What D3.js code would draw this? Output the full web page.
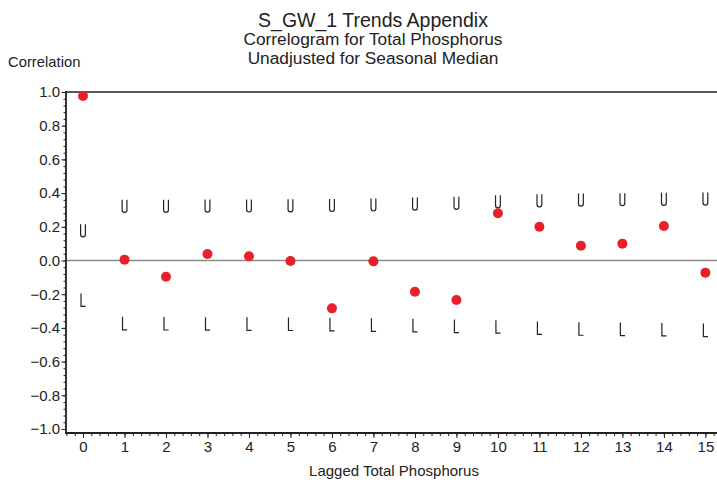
<!DOCTYPE html>
<html><head><meta charset="utf-8">
<script src="https://cdn.jsdelivr.net/npm/d3@7"></script>
<style>body{margin:0;background:#fff;}svg{display:block;font-family:"Liberation Sans",Arial,sans-serif;}</style>
</head><body><svg id="c" width="717" height="483"></svg>
<script>
const lags = [0,1,2,3,4,5,6,7,8,9,10,11,12,13,14,15];
const correlation = [0.976,0.005,-0.096,0.039,0.025,-0.003,-0.284,-0.005,-0.185,-0.234,0.28,0.2,0.088,0.1,0.205,-0.072];
const upperBound = [0.177,0.322,0.322,0.323,0.324,0.325,0.327,0.33,0.335,0.34,0.349,0.355,0.359,0.361,0.363,0.365];
const lowerBound = [-0.234,-0.373,-0.374,-0.375,-0.376,-0.377,-0.379,-0.382,-0.385,-0.389,-0.393,-0.4,-0.405,-0.407,-0.409,-0.413];
const yTicks = [1.0,0.8,0.6,0.4,0.2,0.0,-0.2,-0.4,-0.6,-0.8,-1.0];
const titleLines = ["S_GW_1 Trends Appendix","Correlogram for Total Phosphorus","Unadjusted for Seasonal Median"];

const svg = d3.select("#c");
const x = d3.scaleLinear().domain([-0.41,15.28]).range([66,717]);
const y = d3.scaleLinear().domain([-1,1]).range([429,92]);
const axisY = 433;

// titles
svg.append("text").attr("x",373).attr("y",27).attr("text-anchor","middle").attr("font-size",19.5).attr("fill","#222").text(titleLines[0]);
svg.append("text").attr("x",373).attr("y",45).attr("text-anchor","middle").attr("font-size",17.3).attr("fill","#222").text(titleLines[1]);
svg.append("text").attr("x",373).attr("y",63.5).attr("text-anchor","middle").attr("font-size",17.3).attr("fill","#222").text(titleLines[2]);
svg.append("text").attr("x",8).attr("y",67).attr("font-size",14.8).attr("fill","#222").text("Correlation");
svg.append("text").attr("x",394).attr("y",476).attr("text-anchor","middle").attr("font-size",15).attr("fill","#222").text("Lagged Total Phosphorus");

// top border
svg.append("line").attr("x1",66).attr("x2",717).attr("y1",y(1)).attr("y2",y(1)).attr("stroke","#222").attr("stroke-width",1.6);
// zero line
svg.append("line").attr("x1",66).attr("x2",717).attr("y1",y(0)).attr("y2",y(0)).attr("stroke","#8a8a8a").attr("stroke-width",1.4);

// y axis
const yMinor = d3.range(-1,1.0001,0.04);
const gy = svg.append("g").attr("transform","translate(66,0)");
gy.call(d3.axisLeft(y).tickValues(yMinor).tickSize(2.5).tickFormat(""));
gy.append("g").call(d3.axisLeft(y).tickValues(yTicks).tickSize(4.5).tickPadding(1.5).tickFormat(d3.format(".1f")));
gy.selectAll(".domain").remove();
gy.append("line").attr("x1",0).attr("x2",0).attr("y1",y(1)-1).attr("y2",axisY+1).attr("stroke","#222").attr("stroke-width",1.8);
gy.selectAll("line").attr("stroke","#222");
gy.selectAll("text").attr("font-size",15).attr("fill","#222").attr("font-family","'Liberation Sans',Arial,sans-serif");

// x axis
const xMinor = d3.range(-0.4,15.28,0.2);
const gx = svg.append("g").attr("transform",`translate(0,${axisY})`);
gx.call(d3.axisBottom(x).tickValues(xMinor).tickSize(3).tickFormat(""));
gx.append("g").call(d3.axisBottom(x).tickValues(lags).tickSize(5).tickPadding(3).tickFormat(d3.format("d")));
gx.selectAll(".domain").remove();
gx.append("line").attr("x1",65).attr("x2",717).attr("y1",0).attr("y2",0).attr("stroke","#222").attr("stroke-width",1.8);
gx.selectAll("line").attr("stroke","#222");
gx.selectAll("text").attr("font-size",15).attr("fill","#222").attr("font-family","'Liberation Sans',Arial,sans-serif");

// bound markers (U / L glyph shapes)
const uPath = "M-2.4,-6.5V3.7A2.4,2.4 0 0 0 2.4,3.7V-6.5";
const lPath = "M-2,-6.5V6.5H2.6";
const mk = svg.append("g").attr("fill","none").attr("stroke","#222").attr("stroke-width",1.2);
mk.selectAll("path.u").data(lags).join("path").attr("class","u")
  .attr("transform",(d,i)=>`translate(${x(d)},${y(upperBound[i])})`).attr("d",uPath);
mk.selectAll("path.l").data(lags).join("path").attr("class","l")
  .attr("transform",(d,i)=>`translate(${x(d)},${y(lowerBound[i])})`).attr("d",lPath);

// points
svg.append("g").selectAll("circle").data(lags).join("circle")
  .attr("cx",d=>x(d)).attr("cy",(d,i)=>y(correlation[i])).attr("r",5).attr("fill","#e8202a");
</script></body></html>
